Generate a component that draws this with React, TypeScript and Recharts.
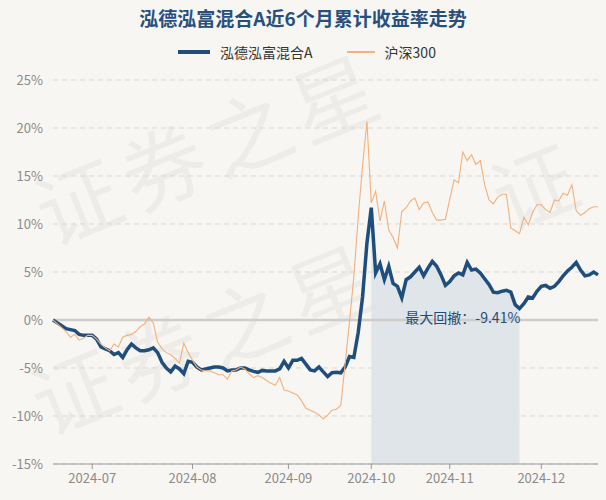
import React from "react";
import {
  ComposedChart,
  Line,
  Area,
  XAxis,
  YAxis,
  CartesianGrid,
  ReferenceLine,
  ReferenceDot,
} from "recharts";

const dates = [
  "2024-06-18","2024-06-19","2024-06-20","2024-06-21","2024-06-24","2024-06-25","2024-06-26","2024-06-27","2024-06-28",
  "2024-07-01","2024-07-02","2024-07-03","2024-07-04","2024-07-05","2024-07-08","2024-07-09","2024-07-10","2024-07-11","2024-07-12",
  "2024-07-15","2024-07-16","2024-07-17","2024-07-18","2024-07-19","2024-07-22","2024-07-23","2024-07-24","2024-07-25","2024-07-26",
  "2024-07-29","2024-07-30","2024-07-31",
  "2024-08-01","2024-08-02","2024-08-05","2024-08-06","2024-08-07","2024-08-08","2024-08-09","2024-08-12","2024-08-13","2024-08-14",
  "2024-08-15","2024-08-16","2024-08-19","2024-08-20","2024-08-21","2024-08-22","2024-08-23","2024-08-26","2024-08-27","2024-08-28",
  "2024-08-29","2024-08-30",
  "2024-09-02","2024-09-03","2024-09-04","2024-09-05","2024-09-06","2024-09-09","2024-09-10","2024-09-11","2024-09-12","2024-09-13",
  "2024-09-18","2024-09-19","2024-09-20","2024-09-23","2024-09-24","2024-09-25","2024-09-26","2024-09-27","2024-09-30",
  "2024-10-08","2024-10-09","2024-10-10","2024-10-11","2024-10-14","2024-10-15","2024-10-16","2024-10-17","2024-10-18","2024-10-21",
  "2024-10-22","2024-10-23","2024-10-24","2024-10-25","2024-10-28","2024-10-29","2024-10-30","2024-10-31",
  "2024-11-01","2024-11-04","2024-11-05","2024-11-06","2024-11-07","2024-11-08","2024-11-11","2024-11-12","2024-11-13","2024-11-14",
  "2024-11-15","2024-11-18","2024-11-19","2024-11-20","2024-11-21","2024-11-22","2024-11-25","2024-11-26","2024-11-27","2024-11-28",
  "2024-11-29",
  "2024-12-02","2024-12-03","2024-12-04","2024-12-05","2024-12-06","2024-12-09","2024-12-10","2024-12-11","2024-12-12","2024-12-13",
  "2024-12-16","2024-12-17","2024-12-18","2024-12-19",
];

const fundValues = [
  0, -0.3, -0.6, -0.9, -1.0, -1.1, -1.5, -1.6, -1.6,
  -1.6, -2.0, -2.8, -3.0, -3.2, -3.6, -3.4, -3.9, -3.1, -2.5,
  -2.9, -3.2, -3.2, -3.1, -2.9, -3.4, -4.4, -5.0, -5.4, -4.8,
  -5.1, -5.6, -4.3,
  -4.4, -4.9, -5.2, -5.1, -5.0, -4.9, -4.9, -5.0, -5.3, -5.2,
  -5.2, -5.0, -5.0, -5.2, -5.35, -5.45, -5.25, -5.3, -5.3, -5.3,
  -5.1, -4.3,
  -5.0, -4.2, -4.2, -4.0, -4.6, -5.2, -5.3, -4.9, -5.4, -5.9,
  -5.5, -5.45, -5.5, -4.9, -3.8, -3.9, -1.3, 2.4, 8.0,
  11.7, 4.9, 5.85, 4.2, 5.6, 3.8, 3.5, 2.3, 4.2, 4.5,
  5.0, 5.5, 4.6, 5.4, 6.1, 5.6, 4.7, 3.6,
  4.0, 4.6, 4.9, 4.7, 6.0, 5.2, 5.3, 4.9, 4.3, 3.7,
  2.9, 2.85, 3.0, 3.1, 2.9, 1.6, 1.2, 1.7, 2.4, 2.3,
  3.0,
  3.5, 3.6, 3.3, 3.5, 4.0, 4.6, 5.1, 5.5, 6.0, 5.2,
  4.6, 4.7, 5.0, 4.7,
];

const hs300Values = [
  0, -0.4, -0.8, -1.2, -1.8, -1.5, -2.1, -1.9, -1.6,
  -1.6, -2.0, -2.5, -2.9, -3.2, -2.5, -2.8, -1.8, -1.6, -1.5,
  -1.2, -0.7, -0.4, 0.3, -0.3, -2.3, -3.0, -3.4, -3.6, -4.0,
  -4.5, -2.4, -3.4,
  -4.2, -4.9, -5.2, -5.3, -5.3, -5.5, -5.7, -5.7, -6.15, -5.3,
  -5.2, -4.9, -5.1, -5.6, -6.0, -5.8, -6.0, -6.3, -6.6, -6.8,
  -6.0, -7.3,
  -7.4, -7.6, -7.8, -8.4, -9.2, -9.4, -9.6, -9.9, -10.3, -9.9,
  -9.4, -9.3, -8.9, -4.6, -0.2, 4.5, 10.7, 16.1, 20.7,
  12.2, 13.4, 10.3, 12.4, 9.4, 8.6, 7.5, 11.3, 11.7, 12.4,
  12.7, 11.5, 12.2, 12.3, 11.2, 10.4, 10.4, 10.5,
  12.6, 14.6, 14.3, 17.5, 16.6, 17.2, 16.2, 16.6, 14.1, 12.5,
  12.1, 12.8, 13.1, 13.1, 9.6, 9.3, 9.0, 10.7, 9.9, 11.2,
  12.0,
  12.0, 11.5, 11.2, 12.5, 12.4, 13.2, 13.0, 14.1, 11.4, 10.9,
  11.2, 11.6, 11.8, 11.8,
];

const monthTicks = ["2024-07-01", "2024-08-01", "2024-09-02", "2024-10-08", "2024-11-01", "2024-12-02"];
const monthTickLabels = ["2024-07", "2024-08", "2024-09", "2024-10", "2024-11", "2024-12"];
const yTicks = [-15, -10, -5, 0, 5, 10, 15, 20, 25];

const drawdownStart = "2024-10-08";
const drawdownEnd = "2024-11-25";
const drawdownLabel = "最大回撤：-9.41%";
const drawdownLabelDate = "2024-11-06";
const drawdownLabelValue = 0.2;

const title = "泓德泓富混合A近6个月累计收益率走势";
const fundName = "泓德泓富混合A";
const indexName = "沪深300";

const BLUE = "#1f4e7d";
const ORANGE = "#f2b07c";
const BG = "#f8f6f2";
const FONT = '"Noto Sans CJK SC", "Noto Sans", sans-serif';

const startIdx = dates.indexOf(drawdownStart);
const endIdx = dates.indexOf(drawdownEnd);

const data = dates.map((d, i) => ({
  date: d,
  fund: fundValues[i],
  hs300: hs300Values[i],
  dd: i >= startIdx && i <= endIdx ? fundValues[i] : null,
}));

const fmtMonth = (d: string) => {
  const k = monthTicks.indexOf(d);
  return k >= 0 ? monthTickLabels[k] : d.slice(0, 7);
};

const watermarks = [
  { left: 22, top: 175, text: "证券之星" },
  { left: 18, top: 365, text: "证券之星" },
  { left: 478, top: 160, text: "证" },
];

const Watermark = () => (
  <div style={{ position: "absolute", inset: 0, overflow: "hidden", pointerEvents: "none" }}>
    {watermarks.map((p, i) => (
      <div
        key={i}
        style={{
          position: "absolute",
          left: p.left,
          top: p.top,
          fontSize: 84,
          lineHeight: "84px",
          fontFamily: FONT,
          color: "rgba(0,0,0,0.04)",
          transform: "rotate(-22deg)",
          transformOrigin: "left top",
          whiteSpace: "nowrap",
          letterSpacing: 8,
        }}
      >
        {p.text}
      </div>
    ))}
  </div>
);

export default function App() {
  return (
    <div style={{ position: "relative", width: 606, height: 500, background: BG, overflow: "hidden", fontFamily: FONT }}>
      <style>{`body{margin:0;}`}</style>
      <Watermark />
      <div
        style={{
          position: "absolute",
          top: 5,
          left: 8,
          width: 590,
          textAlign: "center",
          fontSize: 19,
          fontWeight: 700,
          color: "#27507e",
          lineHeight: "26px",
        }}
      >
        {title}
      </div>
      <div
        style={{
          position: "absolute",
          top: 42,
          left: 12,
          width: 590,
          display: "flex",
          justifyContent: "center",
          alignItems: "center",
          fontSize: 14,
          color: "#333",
          lineHeight: "20px",
        }}
      >
        <span style={{ display: "inline-block", width: 32, height: 4, background: BLUE, marginRight: 10 }} />
        <span style={{ marginRight: 34 }}>{fundName}</span>
        <span style={{ display: "inline-block", width: 28, height: 1.5, background: ORANGE, marginRight: 10 }} />
        <span>{indexName}</span>
      </div>
      <div style={{ position: "absolute", left: 0, top: 0 }}>
        <ComposedChart
          width={606}
          height={500}
          data={data}
          margin={{ top: 80, right: 8, bottom: 0, left: 0 }}
        >
          <CartesianGrid vertical={false} stroke="#d9d7d3" strokeDasharray="5 4" />
          <XAxis
            dataKey="date"
            ticks={monthTicks}
            interval={0}
            tickFormatter={fmtMonth}
            height={36}
            tickSize={5}
            tickMargin={5}
            stroke="#9a9a9a"
            tick={{ fill: "#8a8a8a", fontSize: 13, fontFamily: FONT }}
          />
          <YAxis
            domain={[-15, 25]}
            ticks={yTicks}
            width={53}
            axisLine={false}
            tickLine={false}
            tickMargin={4}
            tickFormatter={(v: number) => `${v}%`}
            tick={{ fill: "#8a8a8a", fontSize: 13, fontFamily: FONT }}
          />
          <Area
            dataKey="dd"
            type="linear"
            baseValue={-15}
            stroke="none"
            fill="#dce2e7"
            fillOpacity={0.85}
            isAnimationActive={false}
            connectNulls={false}
            activeDot={false}
          />
          <ReferenceLine y={0} stroke="#cfcdca" strokeWidth={2.5} />
          <Line
            dataKey="fund"
            type="linear"
            stroke={BLUE}
            strokeWidth={3.5}
            dot={false}
            activeDot={false}
            isAnimationActive={false}
          />
          <Line
            dataKey="hs300"
            type="linear"
            stroke={ORANGE}
            strokeWidth={1.1}
            dot={false}
            activeDot={false}
            isAnimationActive={false}
          />
          <ReferenceDot
            x={drawdownLabelDate}
            y={drawdownLabelValue}
            r={0}
            fill="none"
            stroke="none"
            label={{ value: drawdownLabel, position: "center", fill: BLUE, fontSize: 14, fontFamily: FONT }}
          />
        </ComposedChart>
      </div>
    </div>
  );
}
